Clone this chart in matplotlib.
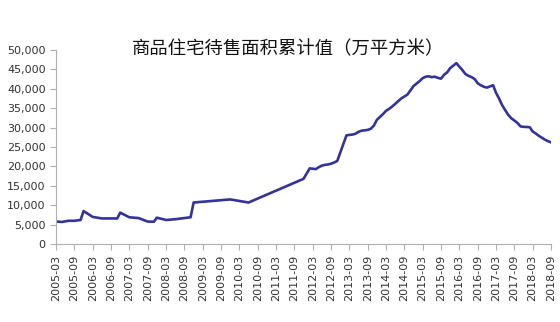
import numpy as np
import matplotlib
matplotlib.use('Agg')
import matplotlib.pyplot as plt
import matplotlib.dates as mdates
import matplotlib.ticker as mticker
import pandas as pd

plt.rcParams['font.family'] = ['Noto Sans CJK SC', 'DejaVu Sans']

# months with data (gaps are bridged by the line, as in the source chart)
months = [
    '2005-03', '2005-05', '2005-07', '2005-09', '2005-11', '2005-12',
    '2006-03', '2006-06', '2006-11', '2006-12',
    '2007-03', '2007-06', '2007-09', '2007-11', '2007-12',
    '2008-03', '2008-06', '2008-08', '2008-11', '2008-12',
    '2009-12', '2010-06', '2011-12',
    '2012-02', '2012-03', '2012-04', '2012-05', '2012-06', '2012-07',
    '2012-08', '2012-09', '2012-10', '2012-11',
    '2013-02', '2013-03', '2013-04', '2013-05', '2013-06', '2013-07',
    '2013-08', '2013-09', '2013-10', '2013-11', '2013-12',
    '2014-02', '2014-03', '2014-04', '2014-05', '2014-06', '2014-07',
    '2014-08', '2014-09', '2014-10', '2014-11', '2014-12',
    '2015-02', '2015-03', '2015-04', '2015-05', '2015-06', '2015-07',
    '2015-08', '2015-09', '2015-10', '2015-11', '2015-12',
    '2016-02', '2016-03', '2016-04', '2016-05', '2016-06', '2016-07',
    '2016-08', '2016-09', '2016-10', '2016-11', '2016-12',
    '2017-02', '2017-03', '2017-04', '2017-05', '2017-06', '2017-07',
    '2017-08', '2017-09', '2017-10', '2017-11', '2017-12',
    '2018-02', '2018-03', '2018-04', '2018-05', '2018-06', '2018-07',
    '2018-08', '2018-09',
]
area = [
    5800, 5700, 6000, 6000, 6200, 8500,
    7000, 6600, 6600, 8100,
    6900, 6700, 5800, 5750, 6800,
    6200, 6400, 6600, 6900, 10700,
    11500, 10700, 16800,
    19500, 19400, 19300, 19800, 20200, 20400,
    20500, 20700, 21000, 21400,
    28000, 28100, 28200, 28400, 28900, 29200,
    29300, 29400, 29700, 30500, 32000,
    33500, 34300, 34800, 35400, 36100, 36800,
    37500, 38000, 38500, 39600, 40700,
    42000, 42700, 43100, 43200, 43000, 43100,
    42800, 42600, 43600, 44200, 45300,
    46600, 45700, 44800, 43800, 43300, 43000,
    42500, 41400, 40900, 40500, 40300,
    40900, 39000, 37500, 35800, 34500, 33300,
    32400, 31800, 31200, 30300, 30200,
    30100, 29000, 28500, 27900, 27400, 26900,
    26500, 26200,
]

dates = pd.to_datetime(months, format='%Y-%m')
title = '商品住宅待售面积累计值（万平方米）'

fig = plt.figure(figsize=(5.6, 3.22), dpi=100)
ax = fig.add_axes([0.1, 0.242, 0.884, 0.603])

ax.plot(dates, area, color='#333399', linewidth=1.9, solid_joinstyle='round')

ax.set_xlim(pd.Timestamp('2005-03-01'), pd.Timestamp('2018-09-01'))
ax.set_ylim(0, 50000)
ax.yaxis.set_major_locator(mticker.MultipleLocator(5000))
ax.yaxis.set_major_formatter(mticker.FuncFormatter(lambda v, p: f'{v:,.0f}'))
ax.xaxis.set_major_locator(mdates.MonthLocator(bymonth=(3, 9)))
ax.xaxis.set_major_formatter(mdates.DateFormatter('%Y-%m'))

for s in ['top', 'right']:
    ax.spines[s].set_visible(False)
for s in ['left', 'bottom']:
    ax.spines[s].set_color('#b0b0b0')
    ax.spines[s].set_linewidth(0.8)
ax.tick_params(axis='both', colors='#b0b0b0', labelcolor='#333333',
               labelsize=8, length=4, width=0.8, direction='out')
ax.tick_params(axis='x', labelrotation=90)
for lab in ax.get_xticklabels() + ax.get_yticklabels():
    lab.set_family('DejaVu Sans')

fig.text(0.515, 0.848, title, ha='center', va='center', fontsize=13.2,
         fontweight='medium', color='#111111')

fig.savefig('out.png', dpi=100)
